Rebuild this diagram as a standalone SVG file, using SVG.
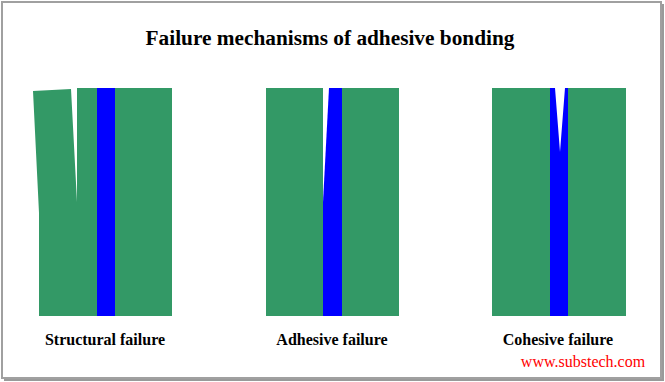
<svg xmlns="http://www.w3.org/2000/svg" width="665" height="382" viewBox="0 0 665 382">
<style>
.g{fill:#339966}
.b{fill:#0000ff}
.t{font-family:"Liberation Serif","Times New Roman",serif;font-weight:bold;fill:#000}
.lbl{font-size:16px;text-anchor:middle}
</style>
<rect x="0" y="0" width="665" height="382" fill="#fff"/>
<rect x="2" y="2" width="659" height="376" fill="none" stroke="#a0a0a0" stroke-width="2"/>
<path d="M662 4 H664 V381 H4 V379 H662 Z" fill="#9a9a9a"/>
<text class="t" x="330" y="45" font-size="21.3" text-anchor="middle">Failure mechanisms of adhesive bonding</text>
<g id="structural">
<polygon class="g" points="33,91 71,89 77,202 77,88 97,88 97,316 39,316 39,213"/>
<rect class="b" x="97" y="88" width="18" height="228"/>
<rect class="g" x="115" y="88" width="57" height="228"/>
<text class="t lbl" x="105" y="345">Structural failure</text>
</g>
<g id="adhesive">
<rect class="g" x="266" y="88" width="57" height="228"/>
<polygon class="b" points="329,88 342,88 342,316 323,316 323,202"/>
<rect class="g" x="342" y="88" width="57" height="228"/>
<text class="t lbl" x="332" y="345">Adhesive failure</text>
</g>
<g id="cohesive">
<rect class="g" x="492" y="88" width="58" height="228"/>
<polygon class="b" points="550,88 555,88 560,152 565,88 568,88 568,316 550,316"/>
<rect class="g" x="568" y="88" width="58" height="228"/>
<text class="t lbl" x="558" y="345">Cohesive failure</text>
</g>
<text x="583" y="367" font-family="'Liberation Serif','Times New Roman',serif" font-size="16" fill="#ff0000" text-anchor="middle">www.substech.com</text>
</svg>
